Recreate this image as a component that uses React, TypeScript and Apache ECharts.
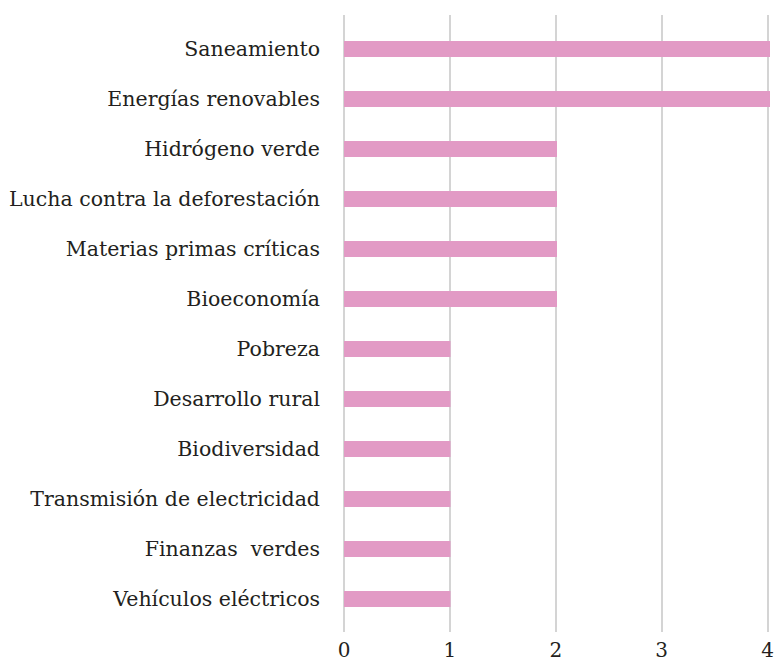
import React, { useEffect, useRef } from "react";
import * as echarts from "echarts";

const categories = [
  "Saneamiento",
  "Energías renovables",
  "Hidrógeno verde",
  "Lucha contra la deforestación",
  "Materias primas críticas",
  "Bioeconomía",
  "Pobreza",
  "Desarrollo rural",
  "Biodiversidad",
  "Transmisión de electricidad",
  "Finanzas  verdes",
  "Vehículos eléctricos",
];
const values = [4, 4, 2, 2, 2, 2, 1, 1, 1, 1, 1, 1];
const xTicks = [0, 1, 2, 3, 4];

const FONT = "'DejaVu Serif', serif";

export default function App() {
  const ref = useRef<HTMLDivElement>(null);
  useEffect(() => {
    if (!ref.current) return;
    const chart = echarts.init(ref.current, undefined, { renderer: "svg" });
    chart.setOption({
      animation: false,
      backgroundColor: "#ffffff",
      grid: [
        { left: 344, right: 7, top: 24, height: 600 },
        { left: 344, right: 7, top: 15, height: 618 },
      ],
      xAxis: [
        {
          gridIndex: 0,
          type: "value",
          min: xTicks[0],
          max: xTicks[xTicks.length - 1],
          interval: 1,
          axisLine: { show: false },
          axisTick: { show: false },
          axisLabel: { show: false },
          splitLine: { show: false },
        },
        {
          gridIndex: 1,
          type: "value",
          min: xTicks[0],
          max: xTicks[xTicks.length - 1],
          interval: 1,
          axisLine: { show: false },
          axisTick: { show: false },
          axisLabel: {
            show: true,
            margin: 8,
            fontFamily: FONT,
            fontSize: 20,
            color: "#231f20",
          },
          splitLine: { show: true, lineStyle: { color: "#c6c6c6", width: 1.5 } },
        },
      ],
      yAxis: [
        {
          gridIndex: 0,
          type: "category",
          data: categories,
          inverse: true,
          axisLine: { show: false },
          axisTick: { show: false },
          splitLine: { show: false },
          axisLabel: {
            margin: 24,
            fontFamily: FONT,
            fontSize: 20.5,
            color: "#231f20",
          },
        },
        {
          gridIndex: 1,
          type: "value",
          show: false,
          min: 0,
          max: 1,
        },
      ],
      series: [
        {
          type: "bar",
          xAxisIndex: 0,
          yAxisIndex: 0,
          data: values,
          barWidth: 16,
          itemStyle: { color: "#e29ac5" },
          z: 5,
        },
      ],
    });
    return () => chart.dispose();
  }, []);
  return (
    <div
      ref={ref}
      style={{ position: "fixed", left: 0, top: 0, width: 777, height: 660 }}
    />
  );
}
